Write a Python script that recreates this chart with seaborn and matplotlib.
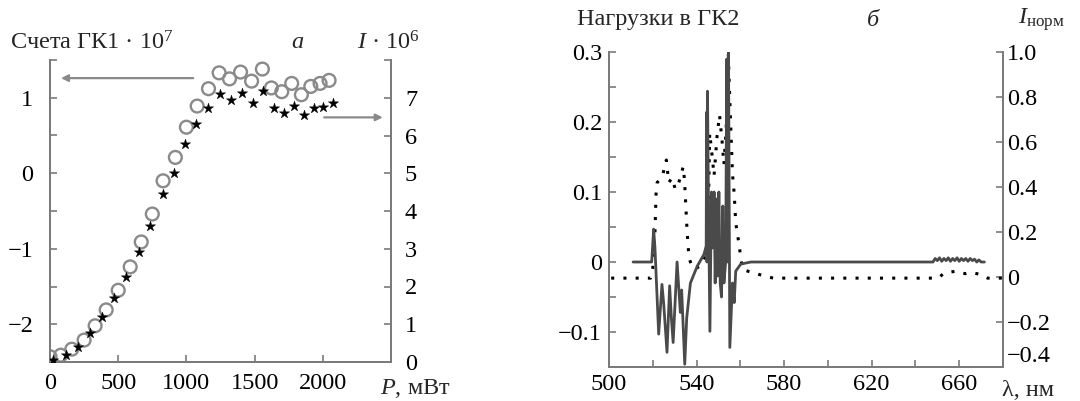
import numpy as np
import pandas as pd
import seaborn as sns
import matplotlib.pyplot as plt
from matplotlib.ticker import MultipleLocator, FixedLocator

# ---- panel a: counts vs power ----
power_circ = [0, 79, 160, 250, 331, 412, 500, 588, 669, 750, 829, 919, 1000, 1079,
              1162, 1240, 1316, 1397, 1478, 1557, 1623, 1699, 1772, 1843, 1912, 1980, 2046]
counts_gk1 = [-2.43, -2.41, -2.33, -2.21, -2.02, -1.81, -1.55, -1.24, -0.91, -0.54, -0.10,
              0.21, 0.61, 0.89, 1.12, 1.33, 1.25, 1.34, 1.22, 1.38, 1.13, 1.08, 1.19, 1.04,
              1.15, 1.19, 1.23]
power_star = [24, 118, 204, 294, 380, 471, 559, 649, 733, 826, 907, 988, 1071, 1157,
              1243, 1324, 1410, 1490, 1564, 1642, 1718, 1792, 1862, 1936, 2005, 2076]
intensity = [0.04, 0.18, 0.41, 0.76, 1.20, 1.70, 2.25, 2.91, 3.59, 4.44, 5.01, 5.77, 6.30,
             6.74, 7.09, 6.95, 7.12, 6.85, 7.18, 6.72, 6.60, 6.79, 6.53, 6.74, 6.75, 6.87]

# ---- panel b: loadings and normalized intensity vs wavelength ----
wl_load = [511, 519.5, 520.4, 521, 522.7, 524.2, 525, 526.5, 527.7, 528.5, 529.3, 531.1,
           532.6, 533.2, 534.6, 535.5, 537.2, 540.3, 543.4, 544.4, 544.6, 544.75, 545.0,
           545.4, 546.1, 546.8, 547.4, 548.0, 548.5, 549.0, 549.6, 550.2, 550.8, 551.4,
           552.0, 552.5, 553.3, 553.8, 554.1, 554.6, 555.2, 556.4, 557.2, 557.9, 560.2,
           564.8, 648, 649, 650, 651, 652, 653, 654, 655, 656, 657, 658, 659, 660, 661,
           662, 663, 664, 665, 666, 667, 668, 669, 670, 671.5]
loadings = [0, 0, 0.047, 0.02, -0.103, -0.032, -0.06, -0.129, -0.034, -0.08, -0.115, 0.0,
            -0.072, -0.04, -0.146, -0.08, -0.03, -0.006, 0.011, 0.023, 0.214, 0.0, 0.244,
            0.1, -0.099, 0.1, 0.02, 0.1, -0.03, 0.09, -0.02, 0.1, -0.03, -0.05,
            0.08, -0.03, 0.0, 0.29, 0.0, 0.30, -0.122, -0.03, -0.058, -0.013, -0.003,
            0, 0, 0.005, 0.002, 0.006, 0.001, 0.005, 0.002, 0.006, 0.001, 0.005, 0.002,
            0.006, 0.001, 0.005, 0.002, 0.005, 0.001, 0.005, 0.002, 0.004, 0.0, 0.003,
            0.0, 0.0]

wl_int = [501, 510, 519, 520, 521, 521.5, 522, 523, 524.7, 526.2, 527.3, 528.8, 530.3,
          531.9, 533.9, 534.5, 535.7, 536.5, 538, 540, 542, 544.5, 545.5, 546, 547, 548,
          549.4, 550.5, 551.7, 552.5, 553.5, 554.5, 555.5, 556.4, 557.2, 557.9, 558.7,
          559.4, 560.2, 561, 564, 569.4, 575, 650.4, 652.8, 655, 657.9, 660, 662.9, 665,
          668, 670, 673, 680]
i_norm = [-0.005, -0.005, -0.005, 0.04, 0.20, 0.37, 0.42, 0.43, 0.46, 0.52, 0.42, 0.44,
          0.39, 0.42, 0.49, 0.43, 0.20, 0.09, 0.04, 0.04, 0.05, 0.10, 0.35, 0.64, 0.55,
          0.45, 0.63, 0.72, 0.60, 0.50, 0.65, 0.99, 0.70, 0.46, 0.37, 0.24, 0.19, 0.145,
          0.086, 0.034, 0.024, 0.009, -0.005, -0.005, 0.015, 0.02, 0.025, 0.018, 0.015,
          0.02, 0.015, 0.01, -0.005, -0.005]

sns.set_theme(style="ticks")
plt.rcParams['font.family'] = ['Liberation Serif', 'DejaVu Serif']
plt.rcParams['mathtext.fontset'] = 'custom'
plt.rcParams['mathtext.rm'] = 'Liberation Serif'
plt.rcParams['mathtext.it'] = 'Liberation Serif:italic'

W, H = 1080, 401
fig = plt.figure(figsize=(W / 100, H / 100), dpi=100)

def box(x0, y0, x1, y1):
    return [x0 / W, 1 - y1 / H, (x1 - x0) / W, (y1 - y0) / H]

spine_col = '#7a7a7a'
fs = 17.5

def style_axes(a):
    for s in a.spines.values():
        s.set_color(spine_col)
        s.set_linewidth(1.3)
    a.spines['top'].set_visible(False)
    a.grid(False)

# panel a
ax = fig.add_axes(box(50, 60, 391, 362))
ax2 = ax.twinx()
df_c = pd.DataFrame({'P': power_circ, 'v': counts_gk1})
df_s = pd.DataFrame({'P': power_star, 'v': intensity})
sns.scatterplot(data=df_c, x='P', y='v', ax=ax, marker='o', s=85,
                facecolor='none', edgecolor='#8a8a8a', linewidth=1.7, zorder=3)
sns.scatterplot(data=df_s, x='P', y='v', ax=ax2, marker='*', s=60,
                color='black', edgecolor='black', linewidth=0.3, zorder=3)
ax.set_xlim(0, 2500)
ax.set_ylim(-2.5, 1.5)
ax2.set_ylim(0, 8)
for a in (ax, ax2):
    style_axes(a)
    a.set_xlabel('')
    a.set_ylabel('')
ax.set_xticks([0, 500, 1000, 1500, 2000, 2500])
ax.set_xticklabels(['0', '500', '1000', '1500', '2000', ''])
ax.set_yticks([-2, -1, 0, 1])
ax.set_yticklabels(['\u22122', '\u22121', '0', '1'])
ax.yaxis.set_minor_locator(FixedLocator([-1.5, -0.5, 0.5, 1.5]))
ax2.set_yticks(range(0, 9))
ax2.set_yticklabels([str(i) for i in range(8)] + [''])
ax.tick_params(axis='both', which='both', direction='in', length=5, width=1.2,
               colors=spine_col, labelcolor='black', labelsize=fs)
ax.tick_params(axis='y', which='both', pad=12, right=False)
ax.tick_params(axis='x', pad=8)
ax2.tick_params(axis='y', direction='in', length=5, width=1.2, colors=spine_col,
                labelcolor='black', labelsize=fs, pad=10)

ax.annotate('', xy=(60, 1.26), xytext=(1070, 1.26),
            arrowprops=dict(arrowstyle='-|>', color='#8a8a8a', lw=1.6,
                            mutation_scale=10))
ax.annotate('', xy=(2460, 0.74), xytext=(1990, 0.74),
            arrowprops=dict(arrowstyle='-|>', color='#8a8a8a', lw=1.6,
                            mutation_scale=10))

# panel b
ax3 = fig.add_axes(box(609, 52, 1003, 367))
ax4 = ax3.twinx()
df_l = pd.DataFrame({'wl': wl_load, 'v': loadings})
df_i = pd.DataFrame({'wl': wl_int, 'v': i_norm})
sns.lineplot(data=df_i, x='wl', y='v', ax=ax4, color='black', lw=2.2,
             linestyle=(0, (1, 3)), sort=False, estimator=None)
sns.lineplot(data=df_l, x='wl', y='v', ax=ax3, color='#4a4a4a', lw=2.0,
             sort=False, estimator=None)
ax3.set_zorder(ax4.get_zorder() + 1)
ax3.patch.set_visible(False)
ax3.set_xlim(500, 680)
ax3.set_ylim(-0.15, 0.3)
ax4.set_ylim(-0.4, 1.0)
for a in (ax3, ax4):
    style_axes(a)
    a.set_xlabel('')
    a.set_ylabel('')
ax3.set_xticks([500, 540, 580, 620, 660])
ax3.set_xticklabels(['500', '540', '580', '620', '660'])
ax3.xaxis.set_minor_locator(FixedLocator([520, 560, 600, 640, 680]))
ax3.set_yticks([-0.1, 0, 0.1, 0.2, 0.3])
ax3.set_yticklabels(['\u22120.1', '0', '0.1', '0.2', '0.3'])
ax3.yaxis.set_minor_locator(FixedLocator([-0.05, 0.05, 0.15, 0.25]))
ax4.set_yticks([-0.4, -0.2, 0, 0.2, 0.4, 0.6, 0.8, 1.0])
ax4.set_yticklabels(['\u22120.4', '\u22120.2', '0', '0.2', '0.4', '0.6', '0.8', '1.0'])
ax4.get_yticklabels()[0].set_va('bottom')
ax3.tick_params(axis='both', which='both', direction='in', length=5, width=1.2,
                colors=spine_col, labelcolor='black', labelsize=fs)
ax3.tick_params(axis='y', which='both', pad=5, right=False)
ax3.tick_params(axis='x', pad=5)
ax4.tick_params(axis='y', direction='in', length=5, width=1.2, colors=spine_col,
                labelcolor='black', labelsize=fs, pad=3)

# header and axis texts
def ftext(x, y, s, **kw):
    fig.text(x / W, 1 - y / H, s, fontsize=fs, va='center', **kw)

ftext(10, 43, 'Счета ГК1 · 10$^{7}$')
ftext(297, 43, 'а', style='italic', ha='center')
ftext(357, 43, '$I$ · 10$^{6}$')
ftext(380, 388, '$P$, мВт')
ftext(577, 20, 'Нагрузки в ГК2')
ftext(873, 20, 'б', style='italic', ha='center')
ftext(1018, 20, r'$I_{\mathrm{норм}}$')
ftext(1002, 390, 'λ, нм')

fig.savefig('out.png', dpi=100)
